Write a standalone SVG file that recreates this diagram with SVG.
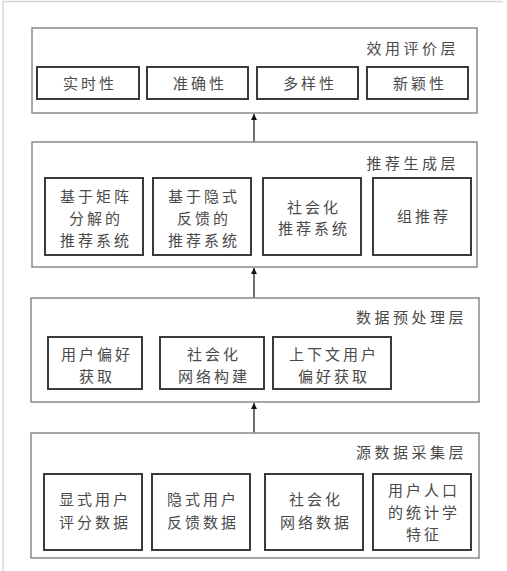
<svg xmlns="http://www.w3.org/2000/svg" width="507" height="571" viewBox="0 0 507 571">
<style>
.layer{fill:#fff;stroke:#8a8a8a;stroke-width:1.5}
.box{fill:#fff;stroke:#3a3a3a;stroke-width:2}
text{font-family:"Noto Sans CJK SC","Noto Sans CJK JP",sans-serif;fill:#4a4a4a}
.lt{font-size:15px;text-anchor:end;letter-spacing:3.5px}
.bt{font-size:15px;text-anchor:middle;letter-spacing:3px}
.conn{stroke:#222;stroke-width:1.3;fill:none}
</style>
<defs>
<marker id="ah" viewBox="0 0 10 10" refX="10" refY="5" markerWidth="6" markerHeight="10" markerUnits="userSpaceOnUse" orient="auto">
<path d="M0,0 L10,5 L0,10 z" fill="#111"/>
</marker>
</defs>
<rect width="507" height="571" fill="#fff"/>
<path d="M3,571 V1.5 H503" fill="none" stroke="#d8d8d8" stroke-width="1.5"/>

<g id="connectors">
<line class="conn" x1="254" y1="142" x2="254" y2="114" marker-end="url(#ah)"/>
<line class="conn" x1="254" y1="298" x2="254" y2="268" marker-end="url(#ah)"/>
<line class="conn" x1="254" y1="433" x2="254" y2="403" marker-end="url(#ah)"/>
</g>

<g id="layer-eval">
<rect class="layer" x="32" y="28" width="445" height="85"/>
<text class="lt" x="459" y="54">效用评价层</text>
</g>
<g id="n-realtime"><rect class="box" x="37" y="67" width="102" height="32"/><text class="bt" x="90" y="89">实时性</text></g>
<g id="n-accuracy"><rect class="box" x="147" y="67" width="101" height="32"/><text class="bt" x="200" y="89">准确性</text></g>
<g id="n-diversity"><rect class="box" x="257" y="67" width="101" height="32"/><text class="bt" x="310" y="89">多样性</text></g>
<g id="n-novelty"><rect class="box" x="367" y="67" width="101" height="32"/><text class="bt" x="420" y="89">新颖性</text></g>

<g id="layer-gen">
<rect class="layer" x="32" y="142" width="445" height="125"/>
<text class="lt" x="459" y="169">推荐生成层</text>
</g>
<g id="n-mf"><rect class="box" x="45" y="178" width="98" height="77"/><text class="bt" x="96" y="202">基于矩阵</text><text class="bt" x="96" y="224">分解的</text><text class="bt" x="96" y="246">推荐系统</text></g>
<g id="n-implicit"><rect class="box" x="153" y="178" width="98" height="77"/><text class="bt" x="204" y="202">基于隐式</text><text class="bt" x="204" y="224">反馈的</text><text class="bt" x="204" y="246">推荐系统</text></g>
<g id="n-social-rec"><rect class="box" x="263" y="178" width="98" height="77"/><text class="bt" x="314" y="213">社会化</text><text class="bt" x="314" y="234">推荐系统</text></g>
<g id="n-group"><rect class="box" x="373" y="178" width="98" height="77"/><text class="bt" x="424" y="222">组推荐</text></g>

<g id="layer-pre">
<rect class="layer" x="31" y="298" width="448" height="104"/>
<text class="lt" x="467" y="323">数据预处理层</text>
</g>
<g id="n-pref"><rect class="box" x="48" y="337" width="94" height="52"/><text class="bt" x="97" y="360">用户偏好</text><text class="bt" x="97" y="382">获取</text></g>
<g id="n-social-net"><rect class="box" x="160" y="337" width="104" height="52"/><text class="bt" x="214" y="360">社会化</text><text class="bt" x="214" y="382">网络构建</text></g>
<g id="n-context"><rect class="box" x="273" y="337" width="118" height="52"/><text class="bt" x="334" y="360">上下文用户</text><text class="bt" x="334" y="382">偏好获取</text></g>

<g id="layer-src">
<rect class="layer" x="31" y="433" width="448" height="125"/>
<text class="lt" x="467" y="458">源数据采集层</text>
</g>
<g id="n-explicit"><rect class="box" x="44" y="474" width="98" height="76"/><text class="bt" x="95" y="505">显式用户</text><text class="bt" x="95" y="528">评分数据</text></g>
<g id="n-implicit-data"><rect class="box" x="152" y="474" width="98" height="76"/><text class="bt" x="203" y="505">隐式用户</text><text class="bt" x="203" y="528">反馈数据</text></g>
<g id="n-social-data"><rect class="box" x="265" y="474" width="98" height="76"/><text class="bt" x="316" y="505">社会化</text><text class="bt" x="316" y="528">网络数据</text></g>
<g id="n-demo"><rect class="box" x="373" y="474" width="98" height="76"/><text class="bt" x="424" y="496">用户人口</text><text class="bt" x="424" y="518">的统计学</text><text class="bt" x="424" y="540">特征</text></g>
</svg>
